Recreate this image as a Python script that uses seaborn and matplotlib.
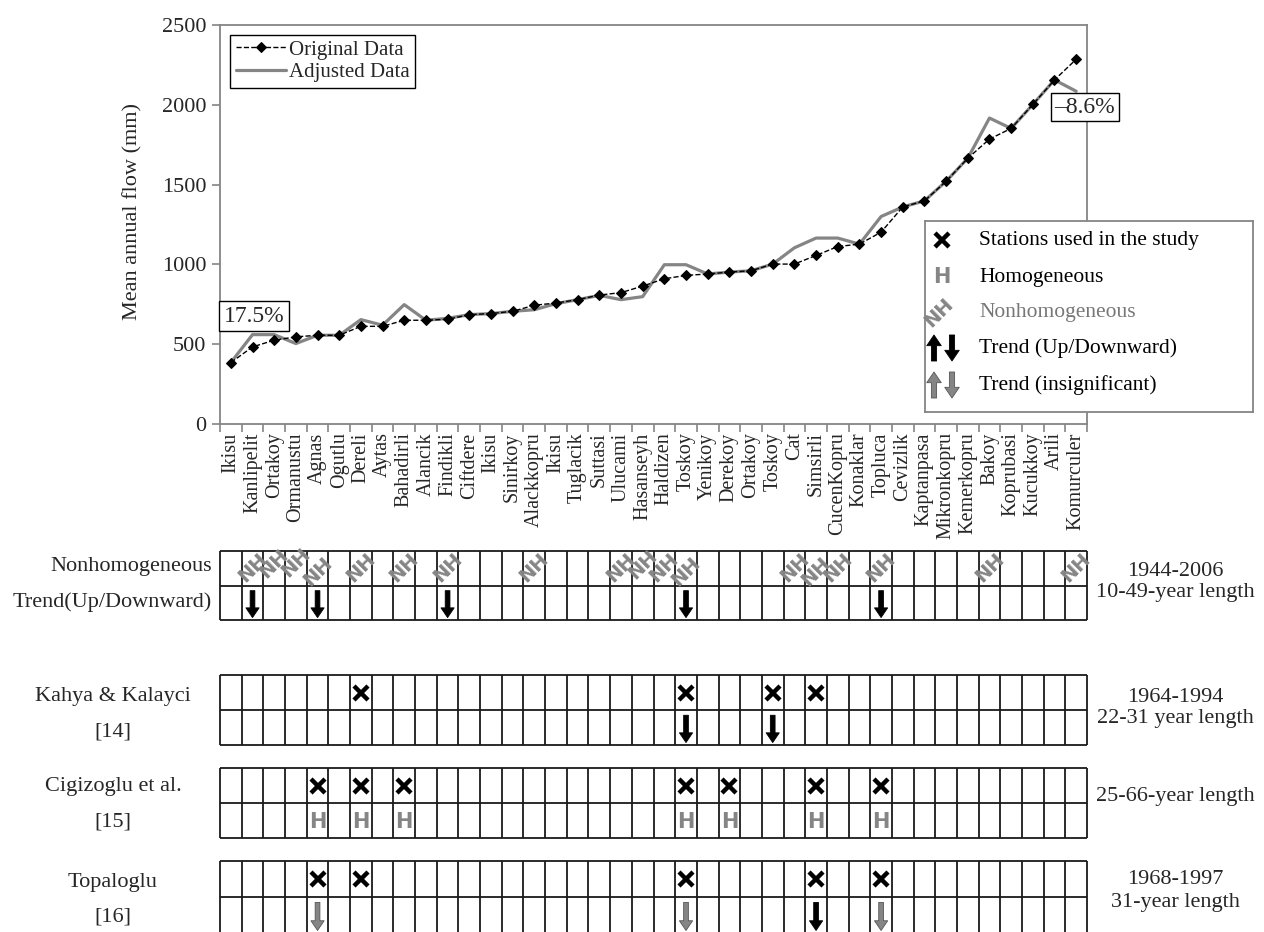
import numpy as np
import pandas as pd
import matplotlib
matplotlib.use('Agg')
import matplotlib.pyplot as plt
import seaborn as sns

# ── Data ───────────────────────────────────────────────────────────────
stations = ['Ikisu', 'Kanlipelit', 'Ortakoy', 'Ormanustu', 'Agnas', 'Ogutlu',
            'Dereli', 'Aytas', 'Bahadirli', 'Alancik', 'Findikli', 'Ciftdere',
            'Ikisu', 'Sinirkoy', 'Alackkopru', 'Ikisu', 'Tuglacik', 'Suttasi',
            'Ulucami', 'Hasanseyh', 'Haldizen', 'Toskoy', 'Yenikoy', 'Derekoy',
            'Ortakoy', 'Toskoy', 'Cat', 'Simsirli', 'CucenKopru', 'Konaklar',
            'Topluca', 'Cevizlik', 'Kaptanpasa', 'Mikronkopru', 'Kemerkopru',
            'Bakoy', 'Koprubasi', 'Kucukkoy', 'Arili', 'Komurculer']

original = [385, 483, 525, 546, 556, 556, 612, 612, 650, 650, 656, 685, 692,
            706, 744, 758, 779, 808, 823, 864, 910, 931, 940, 952, 960, 1002,
            1002, 1056, 1112, 1127, 1202, 1360, 1398, 1521, 1665, 1785, 1852,
            2002, 2156, 2285]

adjusted = [385, 560, 560, 504, 556, 556, 654, 619, 748, 650, 662, 685, 692,
            706, 716, 754, 779, 806, 779, 798, 998, 998, 940, 952, 960, 1002,
            1104, 1165, 1165, 1127, 1300, 1360, 1398, 1521, 1665, 1917, 1852,
            2002, 2156, 2085]

yticks = [0, 500, 1000, 1500, 2000, 2500]

# column indices (0-based, into stations)
nh_cols = [1, 2, 3, 4, 6, 8, 10, 14, 18, 19, 20, 21, 26, 27, 28, 30, 35, 39]
nh_down = [1, 4, 10, 21, 30]
kahya_used = [6, 21, 25, 27]
kahya_down = [21, 25]
cigi_used = [4, 6, 8, 21, 23, 27, 30]
cigi_homog = [4, 6, 8, 21, 23, 27, 30]
topa_used = [4, 6, 21, 27, 30]
topa_down_sig = [27]
topa_down_insig = [4, 21, 30]

# small vertical nudges so that crowded NH labels overlap like the original
nh_nudge = {2: 0.12, 3: 0.15, 4: -0.12, 19: 0.08, 21: -0.12, 27: -0.12}

# ── Figure setup ───────────────────────────────────────────────────────
sns.set_style('white')
plt.rcParams['font.family'] = ['Liberation Serif', 'DejaVu Serif']

W, H = 1264, 932
fig = plt.figure(figsize=(W / 100, H / 100), dpi=100)
fig.patch.set_facecolor('white')

GRAY = '#858585'
LINE = '#1a1a1a'


def box(l, t, r, b):
    return [l / W, 1 - b / H, (r - l) / W, (b - t) / H]


def ftext(x, y, s, **kw):
    fig.text(x / W, 1 - y / H, s, **kw)


# ── Main line chart ────────────────────────────────────────────────────
ax = fig.add_axes(box(220, 25, 1087, 424))
df = pd.DataFrame({'x': np.arange(len(stations)),
                   'Original Data': original,
                   'Adjusted Data': adjusted})
sns.lineplot(data=df, x='x', y='Adjusted Data', ax=ax, color=GRAY,
             lw=2.3, label='Adjusted Data')
sns.lineplot(data=df, x='x', y='Original Data', ax=ax, color='k', lw=1,
             ls='--', marker='D', ms=5, mec='k', mfc='k',
             label='Original Data')

ax.set_xlim(-0.5, len(stations) - 0.5)
ax.set_ylim(0, 2500)
ax.set_yticks(yticks)
ax.set_xticks(np.arange(len(stations)))
ax.set_xticklabels(stations, rotation=90, fontsize=14.5)
ax.set_xticks(np.arange(-0.5, len(stations)), minor=True)
ax.tick_params(axis='x', which='major', length=0, pad=6)
ax.tick_params(axis='x', which='minor', length=6, color=GRAY, width=1.2,
               direction='out', bottom=True)
ax.tick_params(axis='y', length=6, color=GRAY, width=1.2, labelsize=16,
               direction='out', left=True, pad=4)
ax.set_xlabel('')
ax.set_ylabel('Mean annual flow (mm)', fontsize=16)
ax.yaxis.set_label_coords((142 - 220) / 867, (424 - 212) / 399)
for sp in ax.spines.values():
    sp.set_color(GRAY)
    sp.set_linewidth(1.3)

handles, labels = ax.get_legend_handles_labels()
order = [labels.index('Original Data'), labels.index('Adjusted Data')]
leg = ax.legend([handles[i] for i in order], [labels[i] for i in order],
                loc='upper left', bbox_to_anchor=(0.012, 0.975),
                fontsize=15, frameon=True, fancybox=False, framealpha=1,
                edgecolor='k', borderpad=0.25, labelspacing=0.15,
                handlelength=2.4, handletextpad=0.15, borderaxespad=0)
leg.get_frame().set_linewidth(1.0)

ax.text(-0.33, 675, '17.5%', fontsize=17, ha='left', va='center',
        bbox=dict(boxstyle='square,pad=0.2', fc='white', ec='k', lw=1))
ax.text(38.0, 1985, '\u20138.6%', fontsize=17, ha='left', va='center',
        clip_on=False, zorder=10,
        bbox=dict(boxstyle='square,pad=0.15', fc='white', ec='k', lw=1))

# ── Symbol legend ──────────────────────────────────────────────────────
lg = fig.add_axes(box(925, 221, 1253, 412))
lg.set_zorder(20)
lg.set_facecolor('white')
lg.set_xlim(0, 328)
lg.set_ylim(191, 0)
lg.set_xticks([])
lg.set_yticks([])
for sp in lg.spines.values():
    sp.set_color(GRAY)
    sp.set_linewidth(1.3)


def arrow(a, x, y_from, y_to, fc, ec, scale=10):
    a.annotate('', xy=(x, y_to), xytext=(x, y_from),
               arrowprops=dict(arrowstyle='simple,head_width=0.95,'
                               'head_length=0.7,tail_width=0.34',
                               fc=fc, ec=ec, lw=0.6, mutation_scale=scale,
                               shrinkA=0, shrinkB=0),
               annotation_clip=False)


rows_y = [19, 56, 92, 127, 164]
lg.plot([17], [rows_y[0]], 'x', ms=10, mew=3.2, color='k')
lg.text(17, rows_y[1], 'H', fontsize=15, fontweight='bold', color=GRAY,
        ha='center', va='center', family='DejaVu Sans')
lg.text(14, rows_y[2], 'NH', fontsize=14, fontweight='bold', color=GRAY,
        ha='center', va='center', rotation=45, family='DejaVu Sans')
arrow(lg, 9, rows_y[3] + 13, rows_y[3] - 13, 'k', 'k', 11)
arrow(lg, 27, rows_y[3] - 13, rows_y[3] + 13, 'k', 'k', 11)
arrow(lg, 9, rows_y[4] + 13, rows_y[4] - 13, GRAY, '#555555', 11)
arrow(lg, 27, rows_y[4] - 13, rows_y[4] + 13, GRAY, '#555555', 11)
legend_texts = ['Stations used in the study', 'Homogeneous', 'Nonhomogeneous',
                'Trend (Up/Downward)', 'Trend (insignificant)']
for y, s in zip(rows_y, legend_texts):
    lg.text(54, y, s, fontsize=15.5, ha='left', va='center',
            color='#777777' if s == 'Nonhomogeneous' else 'k')


# ── Station tables ─────────────────────────────────────────────────────
def grid_panel(t, b):
    g = fig.add_axes(box(220, t, 1087, b))
    g.set_xlim(-0.5, len(stations) - 0.5)
    g.set_ylim(0, 2)
    g.vlines(np.arange(-0.5, len(stations)), 0, 2, color=LINE, lw=1.3,
             clip_on=False)
    g.hlines([0, 1, 2], -0.5, len(stations) - 0.5, color=LINE, lw=1.3,
             clip_on=False)
    g.axis('off')
    return g


def put_x(g, cols):
    g.plot(cols, [1.5] * len(cols), 'x', ms=10, mew=3.2, color='k',
           ls='none')


def put_arrows(g, cols, fc, ec):
    for c in cols:
        arrow(g, c, 0.85, 0.07, fc, ec)


g1 = grid_panel(551, 620)
for c in nh_cols:
    g1.text(c, 1.52 + nh_nudge.get(c, 0), 'NH', fontsize=14,
            fontweight='bold', color=GRAY, ha='center', va='center',
            rotation=45, family='DejaVu Sans', clip_on=False)
put_arrows(g1, nh_down, 'k', 'k')

g2 = grid_panel(675, 745)
put_x(g2, kahya_used)
put_arrows(g2, kahya_down, 'k', 'k')

g3 = grid_panel(768, 838)
put_x(g3, cigi_used)
for c in cigi_homog:
    g3.text(c, 0.45, 'H', fontsize=15, fontweight='bold', color=GRAY,
            ha='center', va='center', family='DejaVu Sans')

g4 = grid_panel(861, 933)
put_x(g4, topa_used)
put_arrows(g4, topa_down_sig, 'k', 'k')
put_arrows(g4, topa_down_insig, GRAY, '#555555')

# row labels
ftext(212, 567, 'Nonhomogeneous', fontsize=16, ha='right', va='center')
ftext(212, 602, 'Trend(Up/Downward)', fontsize=16, ha='right', va='center')
ftext(113, 697, 'Kahya & Kalayci', fontsize=16, ha='center', va='center')
ftext(113, 732, '[14]', fontsize=16, ha='center', va='center')
ftext(113, 787, 'Cigizoglu et al.', fontsize=16, ha='center', va='center')
ftext(113, 822, '[15]', fontsize=16, ha='center', va='center')
ftext(113, 882, 'Topaloglu', fontsize=16, ha='center', va='center')
ftext(113, 917, '[16]', fontsize=16, ha='center', va='center')

ftext(1175, 572, '1944-2006', fontsize=16, ha='center', va='center')
ftext(1175, 593, '10-49-year length', fontsize=16, ha='center', va='center')
ftext(1175, 697, '1964-1994', fontsize=16, ha='center', va='center')
ftext(1175, 718, '22-31 year length', fontsize=16, ha='center', va='center')
ftext(1175, 797, '25-66-year length', fontsize=16, ha='center', va='center')
ftext(1175, 880, '1968-1997', fontsize=16, ha='center', va='center')
ftext(1175, 902, '31-year length', fontsize=16, ha='center', va='center')

fig.savefig('out.png', dpi=100)
